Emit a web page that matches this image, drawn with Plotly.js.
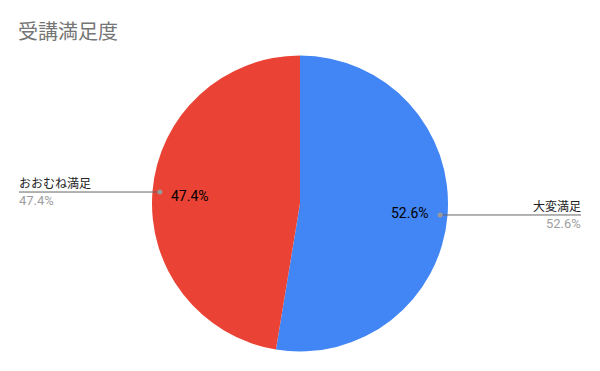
<!DOCTYPE html>
<html>
<head>
<meta charset="utf-8">
<script src="https://cdn.plot.ly/plotly-3.0.1.min.js"></script>
<style>html,body{margin:0;padding:0;background:#fff;}#chart{width:600px;height:371px;}</style>
</head>
<body>
<div id="chart"></div>
<script>
const titleText = '受講満足度';
const categories = ['大変満足', 'おおむね満足'];
const values = [52.6, 47.4];
const colors = ['#4285F4', '#EA4335'];

const W = 600, H = 371;
const cx = 300, cy = 203.5, R = 148;
const FONT = "Roboto, 'Noto Sans CJK JP', sans-serif";

const total = values.reduce((a, b) => a + b, 0);
const pct = values.map(v => (v / total * 100).toFixed(1) + '%');

const px = x => x / W;
const py = y => 1 - y / H;

const annotations = [];
const shapes = [];
let cum = 0;
values.forEach((v, i) => {
  const mid = (cum + v / 2) / total * 2 * Math.PI;
  cum += v;
  const s = Math.sin(mid), c = Math.cos(mid);
  // inside label
  annotations.push({
    x: px(cx + 0.745 * R * s), y: py(cy - 0.745 * R * c + 1),
    xref: 'paper', yref: 'paper', showarrow: false,
    text: pct[i], font: {family: FONT, size: 14, color: '#000'},
    xanchor: 'center', yanchor: 'middle'
  });
  // leader dot
  const dx = cx + 0.95 * R * s, dy = cy - 0.95 * R * c;
  const right = s > 0;
  const endX = right ? 581 : 19;
  shapes.push({type: 'line', xref: 'paper', yref: 'paper',
    x0: px(dx), y0: py(dy), x1: px(endX), y1: py(dy),
    line: {color: '#666666', width: 1}});
  shapes.push({type: 'circle', xref: 'paper', yref: 'paper',
    x0: px(dx - 2.5), x1: px(dx + 2.5), y0: py(dy - 2.5), y1: py(dy + 2.5),
    fillcolor: '#999999', line: {width: 0}});
  annotations.push({
    x: px(endX), y: py(dy - 8),
    xref: 'paper', yref: 'paper', showarrow: false,
    text: categories[i], font: {family: FONT, size: 12, color: '#222222'},
    xanchor: right ? 'right' : 'left', yanchor: 'middle', xshift: right ? 2 : -2
  });
  annotations.push({
    x: px(endX), y: py(dy + 8.5),
    xref: 'paper', yref: 'paper', showarrow: false,
    text: pct[i], font: {family: FONT, size: 13, color: '#9E9E9E'},
    xanchor: right ? 'right' : 'left', yanchor: 'middle', xshift: right ? 2 : -2
  });
});

const data = [{
  type: 'pie',
  labels: categories,
  values: values,
  marker: {colors: colors, line: {width: 0}},
  sort: false,
  direction: 'clockwise',
  rotation: 0,
  textinfo: 'none',
  hoverinfo: 'skip',
  domain: {x: [px(cx - R), px(cx + R)], y: [py(cy + R), py(cy - R)]}
}];

const layout = {
  width: W, height: H,
  margin: {l: 0, r: 0, t: 0, b: 0},
  paper_bgcolor: '#ffffff',
  showlegend: false,
  title: {text: titleText, x: 18 / W, xanchor: 'left', y: py(32), yanchor: 'middle', yref: 'paper',
          font: {family: FONT, size: 20, color: '#757575'}},
  annotations: annotations,
  shapes: shapes
};

Plotly.newPlot('chart', data, layout, {displayModeBar: false, staticPlot: true});
</script>
</body>
</html>
